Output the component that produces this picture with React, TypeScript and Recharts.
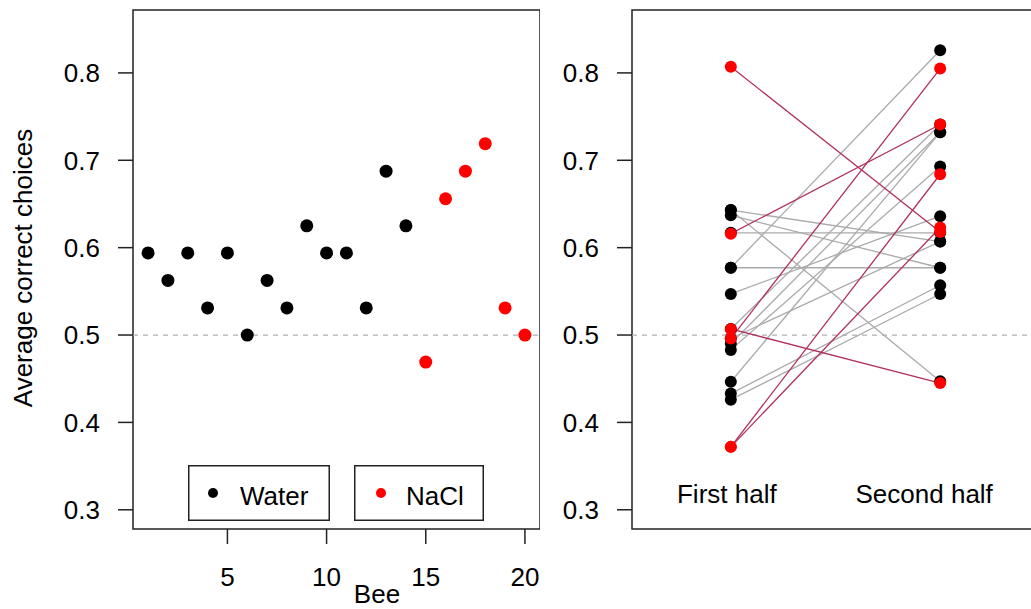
import React from 'react';
import { ScatterChart, Scatter, XAxis, YAxis, ReferenceLine, ReferenceArea, Legend } from 'recharts';

// ---- data ----
const beeIds = [1, 2, 3, 4, 5, 6, 7, 8, 9, 10, 11, 12, 13, 14, 15, 16, 17, 18, 19, 20];
const beeTreatment = [
  'Water', 'Water', 'Water', 'Water', 'Water', 'Water', 'Water', 'Water', 'Water', 'Water',
  'Water', 'Water', 'Water', 'Water', 'NaCl', 'NaCl', 'NaCl', 'NaCl', 'NaCl', 'NaCl',
];
const beeScores = [
  0.594, 0.5625, 0.594, 0.531, 0.594, 0.5, 0.5625, 0.531, 0.625, 0.594,
  0.594, 0.531, 0.6875, 0.625, 0.469, 0.656, 0.6875, 0.719, 0.531, 0.5,
];
const firstHalfScores = [
  0.643, 0.643, 0.637, 0.617, 0.577, 0.577, 0.547, 0.507, 0.49, 0.483,
  0.4465, 0.433, 0.426, 0.496, 0.807, 0.616, 0.507, 0.496, 0.372, 0.372,
];
const secondHalfScores = [
  0.447, 0.607, 0.577, 0.617, 0.826, 0.577, 0.636, 0.741, 0.732, 0.693,
  0.732, 0.557, 0.547, 0.607, 0.618, 0.741, 0.445, 0.805, 0.684, 0.623,
];
const treatments = ['Water', 'NaCl'];
const yTicks = [0.3, 0.4, 0.5, 0.6, 0.7, 0.8];
const beeTicks = [5, 10, 15, 20];
const halfPositions = [1, 2];
const halfLabels = ['First half', 'Second half'];

// ---- styles ----
const FONT = '"Liberation Sans", Arial, Helvetica, sans-serif';
const FS = 26;
const pointColor: Record<string, string> = { Water: '#000000', NaCl: '#ff0000' };
const lineColor: Record<string, string> = { Water: '#aaaaaa', NaCl: '#b03060' };
const frame = '#222222';
const yDomain: [number, number] = [0.278, 0.872];
const beeDomain: [number, number] = [0.24, 20.76];
const halfDomain: [number, number] = [0.528, 2.472];
const halfShift = [-4, -16];

const dot = (color: string, r: number) => (p: any) =>
  <circle cx={p.cx} cy={p.cy} r={r} fill={color} stroke="none" />;
const noDot = () => <g />;

const beePoints = (t: string) =>
  beeIds.map((b, i) => ({ x: b, y: beeScores[i], t: beeTreatment[i] })).filter((d) => d.t === t);

const halfPoints = (t: string) => {
  const out: { x: number; y: number }[] = [];
  beeIds.forEach((_, i) => {
    if (beeTreatment[i] === t) {
      out.push({ x: halfPositions[0], y: firstHalfScores[i] });
      out.push({ x: halfPositions[1], y: secondHalfScores[i] });
    }
  });
  return out;
};

const LegendBoxes = () => (
  <div style={{ display: 'flex', fontFamily: FONT }}>
    <svg width={142} height={56} style={{ display: 'block' }}>
      <rect x={0.75} y={0.75} width={140.5} height={54.5} fill="#fff" stroke={frame} strokeWidth={1.5} />
      <circle cx={25} cy={28} r={5} fill={pointColor.Water} />
      <text x={52} y={40} fontSize={FS} fill="#000">{treatments[0]}</text>
    </svg>
    <svg width={130} height={56} style={{ display: 'block', marginLeft: 24 }}>
      <rect x={0.75} y={0.75} width={128.5} height={54.5} fill="#fff" stroke={frame} strokeWidth={1.5} />
      <circle cx={27} cy={28} r={5} fill={pointColor.NaCl} />
      <text x={52} y={40} fontSize={FS} fill="#000">{treatments[1]}</text>
    </svg>
  </div>
);

const HalfTick = (props: any) => {
  const { x, y, index } = props;
  return (
    <text x={x + halfShift[index]} y={y - 26} textAnchor="middle" fontSize={FS} fill="#000" fontFamily={FONT}>
      {halfLabels[index]}
    </text>
  );
};

const tickStyle = { fontSize: FS, fill: '#000', fontFamily: FONT };
const tickLineStyle = { stroke: frame, strokeWidth: 1.5 };

export default function App() {
  return (
    <div
      style={{
        position: 'fixed', left: 0, top: 0, width: 1031, height: 609, overflow: 'hidden',
        background: '#fff', fontFamily: FONT,
      }}
    >
      <div style={{ position: 'absolute', left: 0, top: 0 }}>
        <ScatterChart width={540} height={609} margin={{ top: 10, right: 0, bottom: 0, left: 0 }}>
          <XAxis
            type="number" dataKey="x" domain={beeDomain} ticks={beeTicks} allowDataOverflow interval={0}
            height={80} tickSize={15} tickMargin={24} tick={tickStyle} tickLine={tickLineStyle} axisLine={false}
            label={{
              content: () => (
                <text x={377} y={603} textAnchor="middle" fontSize={FS} fill="#000" fontFamily={FONT}>Bee</text>
              ),
            }}
          />
          <YAxis
            type="number" dataKey="y" domain={yDomain} ticks={yTicks} allowDataOverflow interval={0}
            width={133} tickSize={15} tickMargin={18} tick={tickStyle} tickLine={tickLineStyle} axisLine={false}
            tickFormatter={(v: number) => v.toFixed(1)}
            label={{
              content: () => (
                <text x={32} y={268} transform="rotate(-90 32 268)" textAnchor="middle" fontSize={FS} fill="#000" fontFamily={FONT}>
                  Average correct choices
                </text>
              ),
            }}
          />
          <ReferenceArea x1={beeDomain[0]} x2={beeDomain[1]} y1={yDomain[0]} y2={yDomain[1]} fill="none" fillOpacity={0} stroke={frame} strokeWidth={1.5} ifOverflow="visible" />
          <Scatter data={beePoints('Water')} shape={dot(pointColor.Water, 6.5)} isAnimationActive={false} />
          <Scatter data={beePoints('NaCl')} shape={dot(pointColor.NaCl, 6.5)} isAnimationActive={false} />
          <ReferenceLine y={0.5} stroke="#b0b0b0" strokeWidth={1.3} strokeDasharray="5 5" />
          <Legend verticalAlign="middle" align="center" layout="horizontal" content={<LegendBoxes />}
            wrapperStyle={{ left: 188, top: 465, width: 300, height: 56 }} />
        </ScatterChart>
      </div>
      <div style={{ position: 'absolute', left: 540, top: 0 }}>
        <ScatterChart width={499} height={609} margin={{ top: 10, right: 0, bottom: 0, left: 0 }}>
          <XAxis
            type="number" dataKey="x" domain={halfDomain} ticks={halfPositions} allowDataOverflow interval={0}
            height={80} tickSize={0} tickMargin={0} tick={<HalfTick />} tickLine={false} axisLine={false}
          />
          <YAxis
            type="number" dataKey="y" domain={yDomain} ticks={yTicks} allowDataOverflow interval={0}
            width={92} tickSize={15} tickMargin={18} tick={tickStyle} tickLine={tickLineStyle} axisLine={false}
            tickFormatter={(v: number) => v.toFixed(1)}
          />
          <ReferenceArea x1={halfDomain[0]} x2={halfDomain[1]} y1={yDomain[0]} y2={yDomain[1]} fill="none" fillOpacity={0} stroke={frame} strokeWidth={1.5} ifOverflow="visible" />
          <ReferenceLine y={0.5} stroke="#b0b0b0" strokeWidth={1.3} strokeDasharray="5 5" />
          {treatments.map((t) =>
            beeIds.map((b, i) =>
              beeTreatment[i] === t ? (
                <Scatter
                  key={`line-${b}`}
                  data={[
                    { x: halfPositions[0], y: firstHalfScores[i] },
                    { x: halfPositions[1], y: secondHalfScores[i] },
                  ]}
                  line={{ stroke: lineColor[t], strokeWidth: 1.3 }}
                  shape={noDot}
                  fill={lineColor[t]}
                  isAnimationActive={false}
                />
              ) : null
            )
          )}
          <Scatter data={halfPoints('Water')} shape={dot(pointColor.Water, 6)} isAnimationActive={false} />
          <Scatter data={halfPoints('NaCl')} shape={dot(pointColor.NaCl, 6)} isAnimationActive={false} />
        </ScatterChart>
      </div>
    </div>
  );
}
